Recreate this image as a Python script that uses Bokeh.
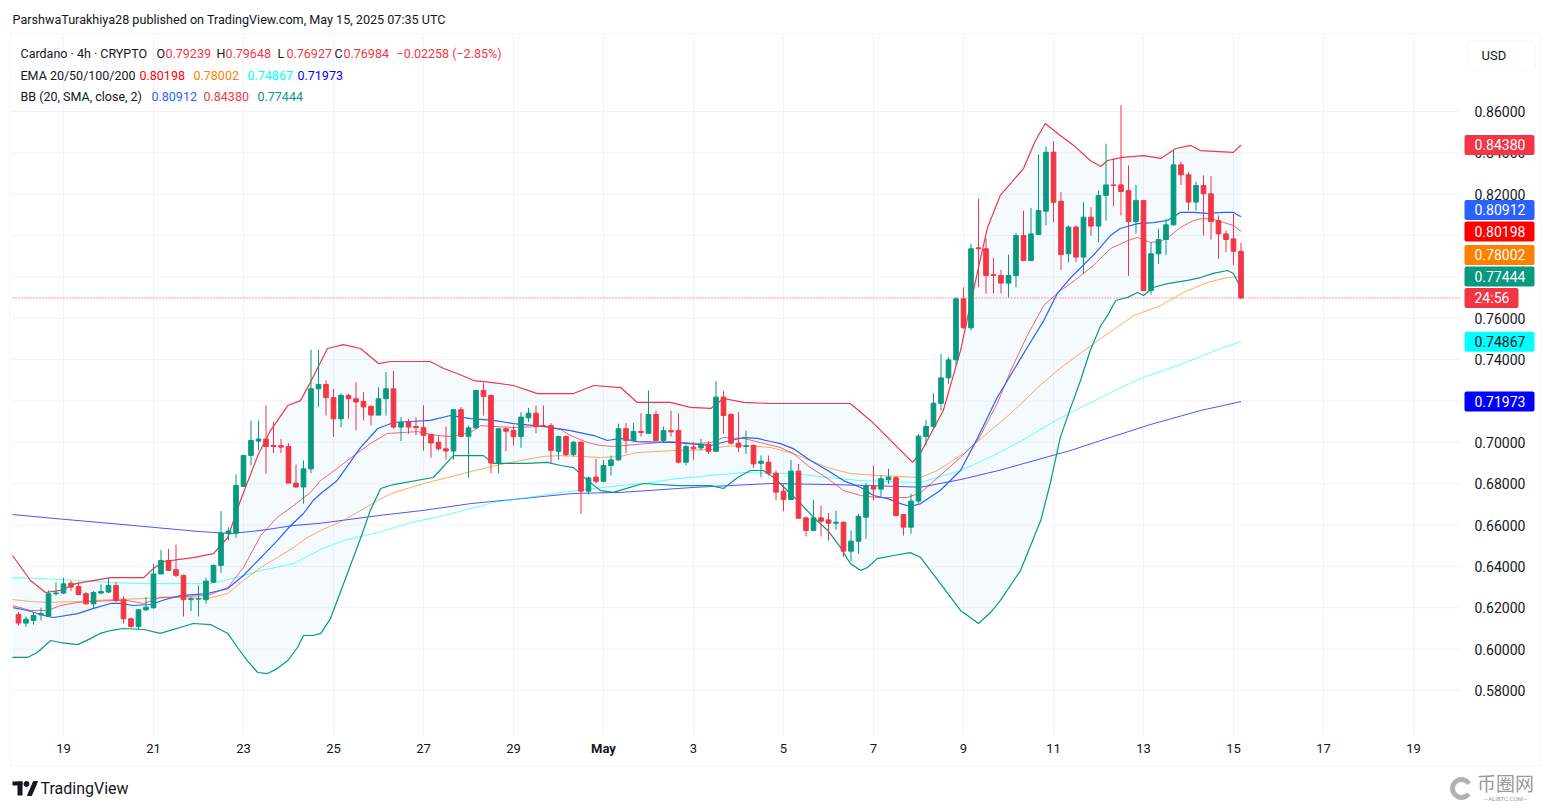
from bokeh.plotting import figure
from bokeh.models import Range1d, Label, BoxAnnotation, ColumnDataSource
from bokeh.embed import file_html
from bokeh.resources import INLINE

# ---------------- data (4h candles, index 0 = Apr 18 00:00 UTC) ----------------
candle_open = [
    0.6168, 0.6126, 0.6139, 0.6166, 0.6160, 0.6268, 0.6271, 0.6319, 0.6303, 0.6268,
    0.6219, 0.6271, 0.6276, 0.6308, 0.6240, 0.6147, 0.6110, 0.6190, 0.6200, 0.6364,
    0.6429, 0.6384, 0.6357, 0.6239, 0.6242, 0.6239, 0.6324, 0.6405, 0.6558, 0.6561,
    0.6787, 0.6937, 0.7006, 0.7016, 0.6985, 0.6984, 0.6980, 0.6803, 0.6784, 0.6872,
    0.7259, 0.7280, 0.7216, 0.7114, 0.7227, 0.7211, 0.7198, 0.7174, 0.7132, 0.7211,
    0.7259, 0.7074, 0.7098, 0.7077, 0.7071, 0.7038, 0.7001, 0.6969, 0.6958, 0.7158,
    0.7029, 0.7070, 0.7251, 0.7227, 0.6900, 0.7066, 0.7057, 0.7028, 0.7119, 0.7141,
    0.7081, 0.7081, 0.6957, 0.7028, 0.6941, 0.7001, 0.6764, 0.6832, 0.6812, 0.6888,
    0.6915, 0.7066, 0.7009, 0.7053, 0.7044, 0.7135, 0.7009, 0.7057, 0.7057, 0.6904,
    0.6977, 0.6973, 0.6990, 0.6957, 0.7219, 0.7135, 0.6996, 0.6980, 0.6985, 0.6899,
    0.6904, 0.6851, 0.6764, 0.6724, 0.6861, 0.6635, 0.6574, 0.6635, 0.6625, 0.6609,
    0.6614, 0.6474, 0.6522, 0.6638, 0.6787, 0.6774, 0.6819, 0.6829, 0.6651, 0.6590,
    0.6716, 0.7028, 0.7077, 0.7189, 0.7312, 0.7399, 0.7694, 0.7554, 0.7941, 0.7936,
    0.7811, 0.7807, 0.7770, 0.7807, 0.8000, 0.7879, 0.8005, 0.8118, 0.8403, 0.8166,
    0.7912, 0.8041, 0.7896, 0.8089, 0.8046, 0.8194, 0.8245, 0.8245, 0.8218, 0.8068,
    0.8170, 0.7734, 0.7912, 0.7981, 0.8052, 0.8342, 0.8294, 0.8162, 0.8242, 0.8202,
    0.8073, 0.8008, 0.7984, 0.79239]
candle_high = [
    0.6179, 0.6158, 0.6174, 0.6200, 0.6284, 0.6324, 0.6345, 0.6332, 0.6324, 0.6276,
    0.6281, 0.6313, 0.6345, 0.6324, 0.6255, 0.6152, 0.6194, 0.6252, 0.6413, 0.6480,
    0.6485, 0.6506, 0.6360, 0.6252, 0.6308, 0.6345, 0.6410, 0.6668, 0.6590, 0.6845,
    0.6937, 0.7106, 0.7106, 0.7179, 0.7098, 0.7017, 0.6996, 0.6893, 0.6913, 0.7448,
    0.7448, 0.7300, 0.7259, 0.7238, 0.7235, 0.7291, 0.7243, 0.7179, 0.7267, 0.7340,
    0.7345, 0.7122, 0.7114, 0.7122, 0.7179, 0.7042, 0.7034, 0.7077, 0.7158, 0.7171,
    0.7081, 0.7254, 0.7286, 0.7231, 0.7066, 0.7070, 0.7081, 0.7146, 0.7167, 0.7178,
    0.7178, 0.7093, 0.7033, 0.7033, 0.7006, 0.7006, 0.6835, 0.6920, 0.6915, 0.6936,
    0.7090, 0.7093, 0.7093, 0.7141, 0.7251, 0.7154, 0.7077, 0.7154, 0.7141, 0.6990,
    0.7001, 0.7017, 0.7006, 0.7296, 0.7248, 0.7141, 0.7146, 0.7057, 0.6990, 0.6936,
    0.6936, 0.6864, 0.6796, 0.6915, 0.6896, 0.6642, 0.6722, 0.6695, 0.6658, 0.6670,
    0.6614, 0.6574, 0.6655, 0.6803, 0.6888, 0.6840, 0.6872, 0.6835, 0.6654, 0.6751,
    0.7040, 0.7109, 0.7238, 0.7428, 0.7412, 0.7702, 0.7750, 0.7960, 0.8178, 0.7989,
    0.7892, 0.7834, 0.7908, 0.8012, 0.8121, 0.8134, 0.8392, 0.8431, 0.8456, 0.8210,
    0.8049, 0.8049, 0.8162, 0.8137, 0.8218, 0.8444, 0.8374, 0.8632, 0.8339, 0.8245,
    0.8170, 0.7968, 0.8033, 0.8081, 0.8411, 0.8358, 0.8307, 0.8261, 0.8291, 0.8287,
    0.8097, 0.8024, 0.8105, 0.79648]
candle_low = [
    0.6115, 0.6107, 0.6118, 0.6139, 0.6159, 0.6260, 0.6268, 0.6281, 0.6260, 0.6216,
    0.6200, 0.6268, 0.6271, 0.6227, 0.6123, 0.6103, 0.6094, 0.6184, 0.6195, 0.6361,
    0.6379, 0.6348, 0.6158, 0.6184, 0.6158, 0.6220, 0.6320, 0.6368, 0.6526, 0.6539,
    0.6784, 0.6889, 0.6961, 0.6848, 0.6948, 0.6948, 0.6803, 0.6780, 0.6703, 0.6851,
    0.7171, 0.7130, 0.7026, 0.7074, 0.7114, 0.7058, 0.7106, 0.7082, 0.7132, 0.7130,
    0.7066, 0.7006, 0.7042, 0.7034, 0.6961, 0.6926, 0.6961, 0.6916, 0.6916, 0.7026,
    0.6829, 0.7065, 0.7130, 0.6851, 0.6851, 0.6957, 0.6985, 0.6974, 0.7098, 0.7044,
    0.7073, 0.6900, 0.6915, 0.6932, 0.6932, 0.6654, 0.6748, 0.6800, 0.6807, 0.6840,
    0.6912, 0.6948, 0.7001, 0.7028, 0.7041, 0.7006, 0.7001, 0.7028, 0.6899, 0.6888,
    0.6915, 0.6961, 0.6944, 0.6957, 0.7041, 0.6990, 0.6953, 0.6944, 0.6877, 0.6831,
    0.6840, 0.6719, 0.6667, 0.6722, 0.6633, 0.6545, 0.6571, 0.6545, 0.6525, 0.6577,
    0.6445, 0.6426, 0.6461, 0.6533, 0.6719, 0.6738, 0.6799, 0.6642, 0.6550, 0.6558,
    0.6705, 0.6985, 0.7070, 0.7154, 0.7283, 0.7372, 0.7549, 0.7541, 0.7750, 0.7718,
    0.7720, 0.7720, 0.7702, 0.7750, 0.7876, 0.7879, 0.8005, 0.8049, 0.8065, 0.7834,
    0.7871, 0.7871, 0.7815, 0.8000, 0.7968, 0.8073, 0.8142, 0.8097, 0.7804, 0.8009,
    0.7734, 0.7714, 0.7863, 0.7907, 0.8049, 0.8245, 0.8121, 0.8121, 0.8000, 0.7981,
    0.7888, 0.7920, 0.7858, 0.76927]
candle_close = [
    0.6126, 0.6145, 0.6163, 0.6172, 0.6268, 0.6272, 0.6316, 0.6300, 0.6264, 0.6219,
    0.6274, 0.6279, 0.6308, 0.6235, 0.6147, 0.6110, 0.6190, 0.6203, 0.6364, 0.6429,
    0.6381, 0.6357, 0.6239, 0.6244, 0.6244, 0.6329, 0.6405, 0.6561, 0.6571, 0.6792,
    0.6937, 0.7009, 0.7016, 0.6980, 0.6980, 0.6977, 0.6803, 0.6784, 0.6872, 0.7259,
    0.7280, 0.7216, 0.7114, 0.7227, 0.7211, 0.7195, 0.7171, 0.7132, 0.7211, 0.7259,
    0.7074, 0.7098, 0.7074, 0.7071, 0.7034, 0.6997, 0.6969, 0.6958, 0.7158, 0.7029,
    0.7070, 0.7251, 0.7222, 0.6900, 0.7066, 0.7054, 0.7028, 0.7122, 0.7141, 0.7077,
    0.7077, 0.6961, 0.7028, 0.6941, 0.7001, 0.6764, 0.6828, 0.6812, 0.6888, 0.6915,
    0.7066, 0.7009, 0.7053, 0.7048, 0.7135, 0.7009, 0.7057, 0.7051, 0.6904, 0.6980,
    0.6969, 0.6990, 0.6957, 0.7219, 0.7130, 0.6996, 0.6977, 0.6983, 0.6896, 0.6909,
    0.6851, 0.6759, 0.6724, 0.6861, 0.6633, 0.6574, 0.6635, 0.6619, 0.6609, 0.6614,
    0.6474, 0.6522, 0.6642, 0.6787, 0.6774, 0.6824, 0.6832, 0.6646, 0.6590, 0.6716,
    0.7030, 0.7077, 0.7189, 0.7312, 0.7399, 0.7694, 0.7554, 0.7936, 0.7936, 0.7807,
    0.7807, 0.7770, 0.7807, 0.8000, 0.7879, 0.8008, 0.8121, 0.8403, 0.8161, 0.7908,
    0.8041, 0.7896, 0.8089, 0.8046, 0.8194, 0.8245, 0.8242, 0.8213, 0.8068, 0.8170,
    0.7734, 0.7912, 0.7981, 0.8052, 0.8342, 0.8294, 0.8162, 0.8242, 0.8202, 0.8068,
    0.8008, 0.7981, 0.79242, 0.76984]

# indicator lines, sampled (x = candle index, y = price)
bb_upper_t = [-0.8, 1.6, 3.6, 5.6, 7.6, 12.3, 16.7, 18, 19.3, 23.3, 26, 27.9, 29.6, 31.9, 33.6, 35.9, 37.6, 38.9,
              41.2, 43.3, 45.6, 48, 49.6, 54.9, 56.7, 58.5, 60.7, 63.3, 66, 69.2, 74, 76.7, 80.3, 82.5, 86.9, 89.6,
              92.3, 94, 96.7, 100.3, 110.9, 113.6, 116.7, 119.2, 120.3, 123.3, 125.6, 127.9, 129.2, 130.9, 134,
              135.6, 136.9, 138.9, 140.7, 142.9, 144.3, 145.2, 147.2, 150, 152.3, 154.3, 156.3, 157.6, 162, 163]
bb_upper_v = [0.6453, 0.6332, 0.6274, 0.6284, 0.6317, 0.6346, 0.6346, 0.6390, 0.6424, 0.6443, 0.6462, 0.6540,
              0.6719, 0.6936, 0.7057, 0.7178, 0.7202, 0.7289, 0.7454, 0.7473, 0.7454, 0.7381, 0.7391, 0.7391,
              0.7357, 0.7333, 0.7299, 0.7289, 0.7275, 0.7236, 0.7236, 0.7275, 0.7265, 0.7193, 0.7193, 0.7169,
              0.7164, 0.7212, 0.7193, 0.7188, 0.7188, 0.7106, 0.6994, 0.6903, 0.6951, 0.7154, 0.7444, 0.7831,
              0.8039, 0.8194, 0.8324, 0.8460, 0.8542, 0.8484, 0.8436, 0.8363, 0.8334, 0.8363, 0.8378, 0.8387,
              0.8373, 0.8421, 0.8436, 0.8411, 0.8402, 0.8438]
bb_basis_t = [-0.7, 1.2, 3.9, 4.7, 7.9, 10, 12.3, 13.6, 15.3, 17.6, 19.6, 21.6, 25.2, 27.9, 30, 32.3, 34.5, 36.3,
              38, 39.3, 40.3, 42.5, 45.6, 47.9, 50, 52.3, 54.9, 57.6, 60.3, 63.3, 66, 70, 73.6, 76.7, 78.5, 80.3,
              82.5, 87.9, 90.5, 92.3, 94.9, 96.7, 98.5, 100.3, 101.6, 103.3, 105.6, 107.9, 110, 112.3, 114, 115.9,
              117.6, 118.9, 120.3, 122.9, 125.6, 127.9, 130.5, 134.5, 136.7, 138.5, 140.3, 143.3, 145.6, 146.9,
              149.2, 151.3, 153.2, 154.9, 156.7, 158.5, 160.7, 162, 163]
bb_basis_v = [0.6201, 0.6187, 0.6158, 0.6153, 0.6172, 0.6197, 0.6221, 0.6221, 0.6211, 0.6216, 0.6240, 0.6259,
              0.6269, 0.6293, 0.6356, 0.6443, 0.6525, 0.6598, 0.6656, 0.6719, 0.6753, 0.6816, 0.6975, 0.7067,
              0.7096, 0.7101, 0.7106, 0.7130, 0.7115, 0.7106, 0.7091, 0.7077, 0.7057, 0.7033, 0.7009, 0.7019,
              0.7004, 0.6999, 0.6990, 0.6985, 0.7009, 0.7023, 0.7019, 0.7004, 0.6994, 0.6970, 0.6912, 0.6864,
              0.6815, 0.6782, 0.6743, 0.6728, 0.6704, 0.6690, 0.6704, 0.6767, 0.6864, 0.7023, 0.7217, 0.7459,
              0.7589, 0.7720, 0.7797, 0.7904, 0.8000, 0.8034, 0.8058, 0.8063, 0.8073, 0.8112, 0.8112, 0.8107,
              0.8112, 0.8112, 0.80912]
bb_lower_t = [-0.8, 1.2, 2.5, 4.3, 5.6, 7.9, 9.6, 10.9, 12.3, 14, 16.7, 18.9, 23.3, 25.6, 27.9, 29.2, 30.5, 31.9,
              33.2, 34.5, 35.9, 37.2, 38, 39.3, 40.3, 41.6, 43.6, 45.6, 46.9, 48.3, 50, 55.3, 58, 60.3, 62, 63.3,
              67.9, 70.5, 72.3, 74, 75.9, 77.6, 79.3, 83.3, 87.9, 92.3, 94, 95.9, 97.6, 99.3, 100.7, 102.5, 104.3,
              106, 107.9, 109.6, 110.9, 112.3, 113.2, 114.5, 116.7, 118.9, 120.3, 121.6, 123.6, 125.6, 128, 129.6,
              130.9, 133.6, 136.3, 137.6, 138.9, 140.3, 141.6, 142.9, 144.3, 145.2, 146.3, 147.9, 149.2, 150,
              151.3, 153.2, 155.9, 157.6, 159.3, 161.2, 162, 163]
bb_lower_v = [0.5960, 0.5960, 0.5984, 0.6042, 0.6032, 0.6022, 0.6051, 0.6076, 0.6090, 0.6100, 0.6095, 0.6076,
              0.6124, 0.6119, 0.6076, 0.6008, 0.5945, 0.5887, 0.5882, 0.5906, 0.5945, 0.6008, 0.6066, 0.6066,
              0.6076, 0.6148, 0.6342, 0.6535, 0.6670, 0.6777, 0.6796, 0.6830, 0.6936, 0.6936, 0.6936, 0.6898,
              0.6898, 0.6903, 0.6888, 0.6878, 0.6815, 0.6767, 0.6758, 0.6801, 0.6791, 0.6791, 0.6777, 0.6830,
              0.6864, 0.6864, 0.6830, 0.6767, 0.6704, 0.6637, 0.6574, 0.6492, 0.6414, 0.6380, 0.6395, 0.6438,
              0.6453, 0.6467, 0.6443, 0.6380, 0.6284, 0.6187, 0.6124, 0.6177, 0.6235, 0.6380, 0.6622, 0.6806,
              0.7023, 0.7169, 0.7299, 0.7444, 0.7565, 0.7613, 0.7686, 0.7701, 0.7725, 0.7710, 0.7749, 0.7768,
              0.7783, 0.7797, 0.7817, 0.7831, 0.7817, 0.77444]
ema20_t = [-0.8, 1.6, 3.9, 5.6, 7.9, 12.3, 14.5, 16.7, 18.9, 25.2, 27.9, 30, 32.3, 34.5, 36.7, 38.9, 40.3, 42.5,
           44.7, 46.9, 49.2, 53.2, 55.9, 57.6, 60.3, 61.6, 66, 70, 72.3, 73.6, 75.9, 77.6, 79.3, 82.5, 86.9, 90.5,
           92.3, 94, 96.7, 98.9, 101.6, 103.3, 105.6, 107.9, 110, 112.3, 114.5, 118.5, 120.3, 122.9, 125.6, 127.9,
           130.5, 132.3, 134.5, 136.7, 138.9, 140.3, 142, 143.3, 145.6, 147.9, 149.2, 150.9, 152.3, 153.6, 154.9,
           156.7, 158, 159.3, 160.7, 162, 163]
ema20_v = [0.6211, 0.6187, 0.6187, 0.6211, 0.6226, 0.6235, 0.6235, 0.6221, 0.6250, 0.6259, 0.6298, 0.6395,
           0.6550, 0.6637, 0.6695, 0.6757, 0.6816, 0.6874, 0.6936, 0.6994, 0.7043, 0.7052, 0.7033, 0.7028,
           0.7048, 0.7081, 0.7072, 0.7077, 0.7062, 0.7033, 0.6999, 0.6985, 0.6980, 0.6990, 0.7004, 0.6994,
           0.6999, 0.7023, 0.7019, 0.6999, 0.6975, 0.6946, 0.6878, 0.6825, 0.6767, 0.6743, 0.6733, 0.6733,
           0.6757, 0.6840, 0.6927, 0.7009, 0.7188, 0.7347, 0.7517, 0.7662, 0.7734, 0.7768, 0.7817, 0.7855,
           0.7937, 0.7976, 0.7991, 0.7967, 0.7971, 0.8000, 0.8039, 0.8073, 0.8083, 0.8078, 0.8063, 0.8049, 0.80198]
ema50_t = [-0.8, 1.6, 3.9, 7.9, 12.3, 16.7, 20.3, 25.2, 27.9, 30, 32.3, 34.5, 36.7, 38.5, 40.3, 43.3, 47.9, 50,
           52.3, 54.5, 56.7, 60.3, 62.5, 65.6, 70, 72.3, 74.9, 77.6, 80.3, 82.5, 87.9, 92.3, 94, 96.7, 100.3,
           103.3, 107.9, 110.9, 114.5, 120.3, 122.5, 126, 129.6, 132.3, 135.9, 138.5, 140.3, 144.3, 148.7, 152.3,
           155.3, 158.5, 161.2, 163]
ema50_v = [0.6240, 0.6230, 0.6226, 0.6230, 0.6240, 0.6245, 0.6250, 0.6245, 0.6269, 0.6332, 0.6395, 0.6443,
           0.6492, 0.6540, 0.6574, 0.6622, 0.6719, 0.6757, 0.6782, 0.6806, 0.6825, 0.6859, 0.6878, 0.6903,
           0.6932, 0.6936, 0.6932, 0.6927, 0.6932, 0.6951, 0.6961, 0.6965, 0.6980, 0.6985, 0.6975, 0.6946,
           0.6878, 0.6849, 0.6840, 0.6830, 0.6864, 0.6946, 0.7057, 0.7140, 0.7265, 0.7347, 0.7396, 0.7502,
           0.7613, 0.7662, 0.7725, 0.7773, 0.7797, 0.78002]
ema100_t = [-0.8, 3.3, 7.9, 12.3, 16.7, 25.6, 30, 32.3, 36.7, 40.3, 43.3, 47.9, 52.3, 56.7, 60.3, 63.3, 67.9,
            72.3, 76.7, 80.3, 83.3, 87.9, 92.3, 96.7, 103.3, 107.9, 112.3, 120.3, 125.6, 130, 134.5, 137.6,
            140.3, 144.3, 149.6, 154.9, 160.3, 163]
ema100_v = [0.6346, 0.6341, 0.6332, 0.6322, 0.6317, 0.6317, 0.6356, 0.6380, 0.6414, 0.6482, 0.6525, 0.6564,
            0.6612, 0.6646, 0.6680, 0.6709, 0.6733, 0.6757, 0.6777, 0.6791, 0.6801, 0.6825, 0.6840, 0.6854,
            0.6849, 0.6830, 0.6815, 0.6806, 0.6864, 0.6936, 0.7023, 0.7091, 0.7144, 0.7217, 0.7309, 0.7376,
            0.7454, 0.74867]
ema200_t = [-0.8, 6, 12, 18, 24, 28.3, 32.3, 36.7, 40.3, 48, 54, 60.3, 66, 74, 80.3, 90, 100.3, 108.3, 113.6,
            120.3, 125.6, 130.7, 140.3, 144.3, 150.9, 157.6, 163]
ema200_v = [0.6651, 0.6628, 0.6609, 0.6589, 0.6569, 0.6559, 0.6574, 0.6598, 0.6609, 0.6646, 0.6671, 0.6704,
            0.6724, 0.6753, 0.6758, 0.6782, 0.6801, 0.6796, 0.6791, 0.6783, 0.6820, 0.6864, 0.6961, 0.7009,
            0.7086, 0.7154, 0.71973]

ema_last = [0.80198, 0.78002, 0.74867, 0.71973]      # EMA 20/50/100/200
bb_last = [0.80912, 0.84380, 0.77444]                # basis / upper / lower
countdown = "24:56"
price_ticks = [0.58, 0.60, 0.62, 0.64, 0.66, 0.68, 0.70, 0.72, 0.74, 0.76, 0.78, 0.80, 0.82, 0.84, 0.86]
time_ticks = [6, 18, 30, 42, 54, 66, 78, 90, 102, 114, 126, 138, 150, 162, 174, 186]
time_labels = ["19", "21", "23", "25", "27", "29", "May", "3", "5", "7", "9", "11", "13", "15", "17", "19"]

n = len(candle_close)
assert len(candle_open) == n and len(candle_high) == n and len(candle_low) == n
for a, b in [(bb_upper_t, bb_upper_v), (bb_basis_t, bb_basis_v), (bb_lower_t, bb_lower_v),
             (ema20_t, ema20_v), (ema50_t, ema50_v), (ema100_t, ema100_v), (ema200_t, ema200_v)]:
    assert len(a) == len(b), (len(a), len(b))

# ---------------- style / layout ----------------
FONT = "Roboto"
DARK = "#131722"
GREEN = "#089981"
RED = "#F23645"
GRID = "#f0f3fa"
C_EMA = ["#FF0000", "#FF7F00", "#00FFFF", "#0000FF"]
C_BB = ["#2962FF", "#F23645", "#089981"]

FIG_W, FIG_H = 1545, 802
PANE_L, PANE_T, PANE_R, PANE_B = 12, 34, 1460, 735   # chart pane in page px
BAR0_PX, PX_PER_BAR = 18, 7.5                          # page x of bar 0, px per 4h bar
REF_PRICE, REF_PY, PX_PER_UNIT = 0.86, 111, 2067.9     # price scale


def xi(px):          # page px -> bar index
    return (px - BAR0_PX) / PX_PER_BAR


def pp(py):          # page py -> price
    return REF_PRICE - (py - REF_PY) / PX_PER_UNIT


def py_of(v):        # price -> page py
    return REF_PY + (REF_PRICE - v) * PX_PER_UNIT


p = figure(width=FIG_W, height=FIG_H, output_backend="svg", toolbar_location=None, title=None,
           x_range=Range1d(xi(0), xi(FIG_W)), y_range=Range1d(pp(FIG_H), pp(0)),
           x_axis_location=None, y_axis_location=None,
           min_border_left=0, min_border_right=0, min_border_top=0, min_border_bottom=0)
p.outline_line_color = None
p.background_fill_color = "white"
p.border_fill_color = "white"
p.grid.visible = False

# grid (pane only)
p.segment(x0=time_ticks, x1=time_ticks, y0=[pp(PANE_B)] * len(time_ticks), y1=[pp(PANE_T)] * len(time_ticks),
          line_color=GRID, line_width=1)
p.segment(x0=[xi(PANE_L)] * len(price_ticks), x1=[xi(PANE_R)] * len(price_ticks), y0=price_ticks, y1=price_ticks,
          line_color=GRID, line_width=1)

# Bollinger fill
p.patch(bb_upper_t + bb_lower_t[::-1], bb_upper_v + bb_lower_v[::-1],
        fill_color="#2196F3", fill_alpha=0.05, line_color=None)

# EMA lines
for (t, v), col, al in zip([(ema200_t, ema200_v), (ema100_t, ema100_v), (ema50_t, ema50_v), (ema20_t, ema20_v)],
                           [C_EMA[3], C_EMA[2], C_EMA[1], C_EMA[0]], [0.68, 0.6, 0.65, 0.6]):
    p.line(t, v, line_color=col, line_alpha=al, line_width=1)
# BB lines
p.line(bb_lower_t, bb_lower_v, line_color=C_BB[2], line_width=1.2)
p.line(bb_upper_t, bb_upper_v, line_color=C_BB[1], line_width=1.2)
p.line(bb_basis_t, bb_basis_v, line_color=C_BB[0], line_width=1.2)

# candles
idx = list(range(n))
cols = [GREEN if c >= o else RED for o, c in zip(candle_open, candle_close)]
src = ColumnDataSource(dict(x=idx, h=candle_high, l=candle_low,
                            top=[max(o, c) for o, c in zip(candle_open, candle_close)],
                            bot=[min(o, c) for o, c in zip(candle_open, candle_close)], col=cols))
p.segment(x0="x", y0="l", x1="x", y1="h", line_color="col", line_width=1, source=src)
p.vbar(x="x", width=0.62, top="top", bottom="bot", fill_color="col", line_color="col", line_width=1, source=src)

# last price dotted line
p.segment(x0=[xi(PANE_L)], x1=[xi(PANE_R)], y0=[candle_close[-1]], y1=[candle_close[-1]],
          line_color=RED, line_width=1, line_dash="1 2")


def sx(px):
    return px


def sy(py):
    return FIG_H - py


def txt(px, py, text, color=DARK, size="12.5px", align="left", style="normal", font=FONT):
    p.add_layout(Label(x=sx(px), y=sy(py), x_units="screen", y_units="screen", text=text, text_color=color,
                       text_font=font, text_font_size=size, text_align=align, text_baseline="middle",
                       text_font_style=style))


def box(l, r, t, b, fill, line=None, radius=0, alpha=1.0):
    p.add_layout(BoxAnnotation(left=sx(l), right=sx(r), top=sy(t), bottom=sy(b), left_units="screen",
                               right_units="screen", top_units="screen", bottom_units="screen",
                               fill_color=fill, fill_alpha=alpha, line_color=line, line_width=1,
                               border_radius=radius, level="annotation"))


def f5(v):
    return "%.5f" % v


# widget border
box(10, 1540, 33, 765, "white", line="#e0e3eb", alpha=0)

# price scale labels
for v in price_ticks:
    txt(1474, py_of(v), f5(v), size="14px")
# time scale labels
for t, lab in zip(time_ticks, time_labels):
    p.add_layout(Label(x=t, y=sy(748), x_units="data", y_units="screen", text=lab, text_color=DARK,
                       text_font=FONT, text_font_size="13px", text_align="center", text_baseline="middle",
                       text_font_style="bold" if not lab.isdigit() else "normal"))

# title
txt(12, 19, "ParshwaTurakhiya28 published on TradingView.com, May 15, 2025 07:35 UTC", size="12.6px")

# legend
o, h, l, c = candle_open[-1], candle_high[-1], candle_low[-1], candle_close[-1]
chg = c - candle_close[-2]
pct = chg / candle_close[-2] * 100
txt(20, 53, "Cardano · 4h · CRYPTO")
for px, letter, val in [(156, "O", o), (216, "H", h), (277, "L", l), (334, "C", c)]:
    txt(px, 53, letter)
    txt(px + 9, 53, f5(val), color=RED)
txt(396, 53, ("−%.5f (−%.2f%%)" % (abs(chg), abs(pct))) if chg < 0 else ("+%.5f (+%.2f%%)" % (chg, pct)), color=RED)
txt(20, 75, "EMA 20/50/100/200")
for px, val, col in zip([139, 193, 247, 297], ema_last, C_EMA):
    txt(px, 75, f5(val), color=col)
txt(20, 96, "BB (20, SMA, close, 2)")
for px, val, col in zip([151, 203, 257], bb_last, C_BB):
    txt(px, 96, f5(val), color=col)

# USD button
box(1467, 1535, 40, 70, "white", line="#e0e3eb", radius=4)
txt(1481, 55, "USD", size="13px")

# price badges on the scale (stacked to avoid overlap)
badges = [(bb_last[1], f5(bb_last[1]), C_BB[1], "white", 1534),
          (bb_last[0], f5(bb_last[0]), C_BB[0], "white", 1534),
          (ema_last[0], f5(ema_last[0]), C_EMA[0], "white", 1534),
          (ema_last[1], f5(ema_last[1]), C_EMA[1], "white", 1534),
          (bb_last[2], f5(bb_last[2]), C_BB[2], "white", 1534),
          (candle_close[-1], countdown, RED, "white", 1518),
          (ema_last[2], f5(ema_last[2]), C_EMA[2], DARK, 1534),
          (ema_last[3], f5(ema_last[3]), C_EMA[3], "white", 1534)]
badges.sort(key=lambda b: b[0])
prev = 1e9
for val, text, bg, fg, right in badges:
    y = min(py_of(val), prev - 21.5)
    prev = y
    box(1464, right, y - 10, y + 10, bg, radius=2)
    txt(1474, y, text, color=fg, size="14px")

# footer: TradingView logo + wordmark
box(12, 22, 781, 785, DARK)
box(17, 22, 781, 795, DARK)
p.scatter([xi(26)], [pp(783.5)], size=5, color=DARK)
p.patch([xi(27), xi(31), xi(37), xi(33)], [pp(795), pp(795), pp(781), pp(781)], color=DARK)
txt(40, 788, "TradingView", size="16px")

# watermark
p.annular_wedge(x=[xi(1461)], y=[pp(788)], inner_radius=7, outer_radius=11, inner_radius_units="screen",
                outer_radius_units="screen", start_angle=0.6, end_angle=5.6, color="#b0b0b0")
txt(1505, 782, "币圈网", color="#9a9a9a", size="19px", align="center", font="Noto Sans CJK SC")
txt(1505, 798, "—ALIBTC.COM—", color="#9a9a9a", size="6px", align="center")

open("out.html", "w").write(file_html(p, INLINE))
